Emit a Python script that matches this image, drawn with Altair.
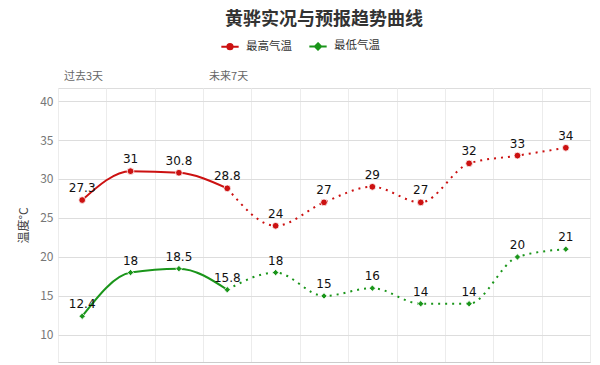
import altair as alt
import pandas as pd

series_names = ["最高气温", "最低气温"]
series_colors = ["#cc1111", "#1a951a"]
series_shapes = ["circle", "diamond"]
max_temps = [27.3, 31, 30.8, 28.8, 24, 27, 29, 27, 32, 33, 34]
min_temps = [12.4, 18, 18.5, 15.8, 18, 15, 16, 14, 14, 20, 21]
n_past_end = 3  # index of last observed day (solid segment ends here)
period_labels = ["过去3天", "未来7天"]
period_starts = [0, 3]
y_ticks = [10, 15, 20, 25, 30, 35, 40]

rows = []
for name, vals in zip(series_names, [max_temps, min_temps]):
    for i, v in enumerate(vals):
        rows.append({"series": name, "idx": i + 0.5, "i": i, "temp": v,
                     "label": f"{v:g}"})
df = pd.DataFrame(rows)
df_periods = pd.DataFrame({"pos": period_starts, "text": period_labels})

n = len(max_temps)
x_scale = alt.Scale(domain=[0, n], nice=False, zero=False)
y_scale = alt.Scale(domain=[6.53, 41.67], nice=False, zero=False)

x_enc = alt.X("idx:Q", scale=x_scale,
              axis=alt.Axis(values=list(range(n + 1)), labels=False, ticks=False,
                            title=None, grid=True, gridColor="#ececec",
                            domainColor="#cccccc"))
y_enc = alt.Y("temp:Q", scale=y_scale,
              axis=alt.Axis(values=y_ticks, title="温度°C", grid=True,
                            gridColor="#dddddd", domain=False, ticks=False,
                            labelColor="#777777", labelFontSize=12,
                            labelPadding=5, titleColor="#444444",
                            titleFontSize=12, titleFontWeight="normal",
                            titlePadding=9))

layers = []
for k, (name, col, shp) in enumerate(zip(series_names, series_colors, series_shapes)):
    d = df[df["series"] == name]
    solid = alt.Chart(d[d["i"] <= n_past_end]).mark_line(
        interpolate="monotone", strokeWidth=2, color=col).encode(
        x=x_enc if k == 0 else "idx:Q", y=y_enc if k == 0 else "temp:Q")
    dotted = alt.Chart(d[d["i"] >= n_past_end]).mark_line(
        interpolate="monotone", strokeWidth=2, strokeDash=[2, 5], color=col).encode(
        x="idx:Q", y="temp:Q")
    pts = alt.Chart(d).mark_point(
        filled=True, size=45 if shp == "circle" else 40, shape=shp, opacity=1,
        color=col, stroke="#ffffff", strokeWidth=0.8).encode(x="idx:Q", y="temp:Q")
    layers += [solid, dotted, pts]

labels = alt.Chart(df).mark_text(baseline="bottom", dy=-5, fontSize=12,
                                 color="#111111", font="DejaVu Sans").encode(
    x="idx:Q", y="temp:Q", text="label:N")

legend_paths = [
    "M-1,0L1,0M-0.3,0A0.3,0.3 0 1,1 0.3,0A0.3,0.3 0 1,1 -0.3,0Z",
    "M-1,0L1,0M0,-0.36L0.36,0L0,0.36L-0.36,0Z",
]
leg = alt.Legend(title=None, orient="none", direction="horizontal",
                 legendX=162, legendY=-52, symbolSize=300,
                 symbolStrokeWidth=2, symbolOpacity=1,
                 labelFontSize=11.5, labelColor="#333333",
                 columnPadding=13, labelOffset=6)
legend_layer = alt.Chart(df).mark_point(filled=True, size=0, opacity=1).encode(
    x="idx:Q", y="temp:Q",
    fill=alt.Fill("series:N", scale=alt.Scale(domain=series_names, range=series_colors),
                  legend=leg),
    stroke=alt.Stroke("series:N", scale=alt.Scale(domain=series_names, range=series_colors),
                      legend=leg),
    shape=alt.Shape("series:N", scale=alt.Scale(domain=series_names, range=legend_paths),
                    legend=leg),
)

periods = alt.Chart(df_periods).mark_text(align="left", baseline="middle", dx=6,
                                          fontSize=11, color="#666666").encode(
    x="pos:Q", y=alt.value(-11), text="text:N")

chart = alt.layer(*layers, labels, periods, legend_layer).properties(
    width=532, height=274,
    title=alt.TitleParams("黄骅实况与预报趋势曲线", fontSize=18, fontWeight="bold",
                          color="#333333", anchor="middle", offset=7),
    padding={"left": 50, "top": 80, "right": 2, "bottom": 2},
    autosize=alt.AutoSizeParams(type="none"),
).configure_view(stroke=None).configure(font="Noto Sans CJK SC")

chart.save("out.html", embed_options={"renderer": "svg", "actions": False})
